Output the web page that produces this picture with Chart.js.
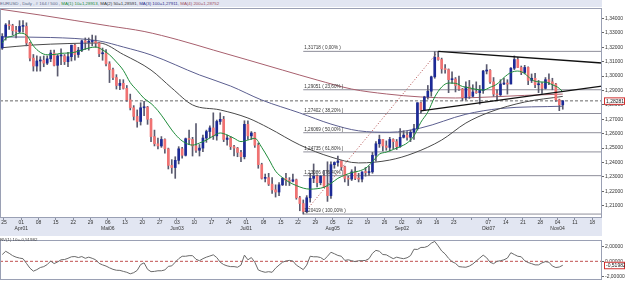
<!DOCTYPE html>
<html><head><meta charset="utf-8">
<script src="https://cdn.jsdelivr.net/npm/chart.js@4.4.0/dist/chart.umd.min.js"></script>
<style>
html,body{margin:0;padding:0;background:#fff;width:625px;height:284px;overflow:hidden;font-family:"Liberation Sans",Arial,sans-serif}
#main{position:absolute;left:0;top:0}
#osc{position:absolute;left:0;top:236px}
#title{position:absolute;left:0;top:0;width:602px;height:7px;background:#e2e6f2;font-size:4.4px;line-height:7px;white-space:nowrap;color:#5a6888}
#oscTitle{position:absolute;left:0;top:237px;font-size:4.4px;line-height:5px;white-space:nowrap;color:#444}
</style></head><body>
<canvas id="main" width="625" height="236"></canvas>
<canvas id="osc" width="625" height="48"></canvas>
<div id="title">EURUSD , Daily , # 164 / 500 , <span style="color:#1e8c3a">MA(1) 10=1,28913</span>, <span style="color:#333">MA(2) 50=1,28591</span>, <span style="color:#2a2f8a">MA(3) 100=1,27911</span>, <span style="color:#a0505e">MA(4) 200=1,28752</span></div>
<div id="oscTitle">RV(1) 10=-0,51982</div>
<script>
// ---- data (trading-day index starts at -1 = Fri 23 Mar 2012) ----
const firstIndex = -1;
const opens  = [1.3195,1.3275,1.3355,1.3350,1.3315,1.3310,1.3345,1.3345,1.3230,1.3125,1.3070,1.3105,1.3110,1.3090,1.3120,1.3160,1.3075,1.3140,1.3140,1.3100,1.3135,1.3215,1.3150,1.3180,1.3245,1.3235,1.3240,1.3240,1.3230,1.3155,1.3160,1.3085,1.3045,1.2990,1.2935,1.2950,1.2915,1.2835,1.2780,1.2720,1.2685,1.2780,1.2785,1.2700,1.2580,1.2530,1.2515,1.2560,1.2495,1.2380,1.2365,1.2415,1.2495,1.2450,1.2565,1.2560,1.2515,1.2485,1.2500,1.2570,1.2615,1.2640,1.2585,1.2685,1.2700,1.2560,1.2570,1.2510,1.2500,1.2470,1.2440,1.2665,1.2585,1.2605,1.2520,1.2385,1.2290,1.2295,1.2250,1.2210,1.2195,1.2245,1.2290,1.2275,1.2270,1.2280,1.2155,1.2115,1.2060,1.2155,1.2290,1.2305,1.2260,1.2305,1.2230,1.2170,1.2385,1.2400,1.2410,1.2370,1.2290,1.2285,1.2335,1.2290,1.2285,1.2335,1.2330,1.2335,1.2450,1.2530,1.2560,1.2515,1.2505,1.2560,1.2545,1.2510,1.2575,1.2590,1.2575,1.2610,1.2635,1.2815,1.2765,1.2855,1.2895,1.2995,1.3130,1.3115,1.3050,1.3045,1.2975,1.2980,1.2935,1.2910,1.2850,1.2925,1.2860,1.2890,1.2885,1.2900,1.3035,1.3040,1.2960,1.2875,1.2870,1.2945,1.2950,1.2945,1.3055,1.3115,1.3060,1.3025,1.3060,1.2970,1.2985,1.2940,1.2945,1.2915,1.2975,1.2960,1.2945,1.2835,1.2800];
const highs  = [1.3295,1.3365,1.3385,1.3360,1.3345,1.3385,1.3385,1.3370,1.3235,1.3150,1.3140,1.3135,1.3140,1.3140,1.3180,1.3180,1.3150,1.3190,1.3150,1.3165,1.3215,1.3220,1.3200,1.3250,1.3265,1.3265,1.3285,1.3280,1.3235,1.3195,1.3185,1.3100,1.3055,1.3010,1.2975,1.2975,1.2935,1.2875,1.2795,1.2765,1.2815,1.2825,1.2790,1.2705,1.2625,1.2570,1.2580,1.2565,1.2500,1.2420,1.2440,1.2510,1.2505,1.2570,1.2625,1.2575,1.2670,1.2525,1.2590,1.2625,1.2655,1.2745,1.2695,1.2745,1.2720,1.2590,1.2580,1.2520,1.2505,1.2485,1.2690,1.2690,1.2615,1.2610,1.2535,1.2395,1.2320,1.2325,1.2295,1.2245,1.2260,1.2295,1.2325,1.2295,1.2320,1.2285,1.2165,1.2140,1.2170,1.2325,1.2390,1.2315,1.2310,1.2345,1.2405,1.2405,1.2405,1.2445,1.2415,1.2375,1.2305,1.2350,1.2370,1.2325,1.2335,1.2365,1.2375,1.2470,1.2545,1.2590,1.2560,1.2550,1.2575,1.2565,1.2560,1.2635,1.2620,1.2615,1.2625,1.2665,1.2815,1.2820,1.2860,1.2935,1.3000,1.3170,1.3172,1.3125,1.3080,1.3050,1.3030,1.2990,1.3000,1.2915,1.2960,1.2970,1.2940,1.2960,1.2935,1.3040,1.3080,1.3045,1.2990,1.2905,1.2975,1.2985,1.2975,1.3060,1.3140,1.3130,1.3070,1.3075,1.3065,1.3015,1.3020,1.2970,1.2955,1.2990,1.3015,1.2985,1.2950,1.2840,1.2830];
const lows   = [1.3185,1.3250,1.3325,1.3285,1.3265,1.3300,1.3305,1.3210,1.3105,1.3035,1.3035,1.3035,1.3065,1.3080,1.3100,1.3070,1.3000,1.3080,1.3080,1.3065,1.3105,1.3110,1.3130,1.3170,1.3185,1.3180,1.3210,1.3200,1.3135,1.3110,1.3070,1.2955,1.2975,1.2910,1.2905,1.2910,1.2825,1.2765,1.2695,1.2645,1.2660,1.2725,1.2665,1.2545,1.2515,1.2495,1.2505,1.2465,1.2355,1.2325,1.2290,1.2390,1.2430,1.2445,1.2525,1.2445,1.2470,1.2445,1.2475,1.2540,1.2570,1.2560,1.2555,1.2665,1.2545,1.2520,1.2490,1.2445,1.2440,1.2405,1.2425,1.2560,1.2560,1.2505,1.2360,1.2285,1.2265,1.2240,1.2185,1.2160,1.2170,1.2240,1.2240,1.2240,1.2265,1.2145,1.2065,1.2042,1.2050,1.2125,1.2260,1.2230,1.2245,1.2225,1.2130,1.2150,1.2360,1.2375,1.2345,1.2265,1.2240,1.2275,1.2280,1.2265,1.2265,1.2305,1.2310,1.2325,1.2410,1.2505,1.2480,1.2485,1.2480,1.2495,1.2490,1.2505,1.2570,1.2555,1.2545,1.2560,1.2625,1.2740,1.2760,1.2840,1.2860,1.2985,1.3110,1.3020,1.3020,1.2885,1.2950,1.2890,1.2900,1.2830,1.2835,1.2845,1.2855,1.2880,1.2805,1.2880,1.3015,1.2950,1.2860,1.2830,1.2865,1.2940,1.2875,1.2945,1.3045,1.3060,1.3010,1.3015,1.2940,1.2955,1.2920,1.2885,1.2880,1.2910,1.2940,1.2905,1.2825,1.2760,1.2770];
const closes = [1.3275,1.3355,1.3350,1.3315,1.3310,1.3345,1.3345,1.3230,1.3125,1.3070,1.3105,1.3110,1.3090,1.3120,1.3160,1.3075,1.3140,1.3140,1.3100,1.3135,1.3215,1.3150,1.3180,1.3245,1.3235,1.3240,1.3240,1.3230,1.3155,1.3160,1.3085,1.3045,1.2990,1.2935,1.2950,1.2915,1.2835,1.2780,1.2720,1.2685,1.2780,1.2785,1.2700,1.2580,1.2530,1.2515,1.2560,1.2495,1.2380,1.2365,1.2415,1.2495,1.2450,1.2565,1.2560,1.2515,1.2485,1.2500,1.2570,1.2615,1.2640,1.2585,1.2685,1.2700,1.2560,1.2570,1.2510,1.2500,1.2470,1.2440,1.2665,1.2585,1.2605,1.2520,1.2385,1.2290,1.2295,1.2250,1.2210,1.2195,1.2245,1.2290,1.2275,1.2270,1.2280,1.2155,1.2115,1.2060,1.2155,1.2290,1.2305,1.2260,1.2305,1.2230,1.2170,1.2385,1.2400,1.2410,1.2370,1.2290,1.2285,1.2335,1.2290,1.2285,1.2335,1.2330,1.2335,1.2450,1.2530,1.2560,1.2515,1.2505,1.2560,1.2545,1.2510,1.2575,1.2590,1.2575,1.2610,1.2635,1.2815,1.2765,1.2855,1.2895,1.2995,1.3130,1.3115,1.3050,1.3045,1.2975,1.2980,1.2935,1.2910,1.2850,1.2925,1.2860,1.2890,1.2885,1.2900,1.3035,1.3040,1.2960,1.2875,1.2870,1.2945,1.2950,1.2945,1.3055,1.3115,1.3060,1.3025,1.3060,1.2970,1.2985,1.2940,1.2945,1.2915,1.2975,1.2960,1.2945,1.2835,1.2800,1.2828];

// moving averages (index, value)
const ma10Idx = [-1,0,2,4,6,8,10,12,14,16,18,20,22,24,26,28,30,32,34,36,38,40,42,44,46,48,50,52,54,56,58,60,62,64,66,68,70,72,74,76,78,80,82,84,86,88,90,92,94,96,98,100,102,104,106,108,110,112,114,116,118,120,122,124,126,128,130,132,134,136,138,140,142,144,146,148,150,152,154,156,158,160,161];
const ma10    = [1.3230,1.3262,1.3278,1.3298,1.3285,1.3210,1.3165,1.3148,1.3150,1.3158,1.3160,1.3166,1.3180,1.3195,1.3202,1.3182,1.3148,1.3098,1.3040,1.2955,1.2900,1.2845,1.2810,1.2760,1.2695,1.2626,1.2570,1.2535,1.2521,1.2535,1.2556,1.2584,1.2605,1.2591,1.2568,1.2545,1.2556,1.2568,1.2505,1.2425,1.2340,1.2295,1.2262,1.2240,1.2222,1.2215,1.2218,1.2228,1.2255,1.2290,1.2312,1.2330,1.2340,1.2360,1.2405,1.2458,1.2472,1.2490,1.2510,1.2535,1.2585,1.2680,1.2750,1.2855,1.2924,1.2952,1.2950,1.2928,1.2918,1.2908,1.2903,1.2922,1.2945,1.2990,1.3025,1.3035,1.3018,1.2975,1.2960,1.2958,1.2940,1.2915,1.2891];
const ma50Idx = [-2,8,18,27,34,42,48,54,62,70,76,85,94,102,111,118,126,133,140,150,161];
const ma50    = [1.3195,1.3216,1.3226,1.3230,1.3150,1.3042,1.2917,1.2800,1.2765,1.2709,1.2640,1.2522,1.2438,1.2397,1.2417,1.2466,1.2556,1.2674,1.2751,1.2820,1.2859];
const ma100Idx = [-2,13,27,34,42,56,65,74,85,94,102,111,120,133,143,161];
const ma100    = [1.3272,1.3268,1.3244,1.3202,1.3147,1.3008,1.2931,1.2834,1.2744,1.2667,1.2620,1.2610,1.2640,1.2735,1.2775,1.2791];
const ma200Idx = [-2,10,20,30,40,50,60,70,80,90,100,110,120,130,140,150,161];
const ma200    = [1.3466,1.3424,1.3386,1.3348,1.3310,1.3251,1.3181,1.3112,1.3042,1.2973,1.2910,1.2876,1.2855,1.2848,1.2855,1.2866,1.2875];

// oscillator (one value per trading day, from index -1)
const osc = [0.9,1.33,1.06,0.75,0.55,0.43,0.35,-0.27,-0.9,-1.3,-1.1,-0.82,-0.7,-0.43,0.04,-0.3,-0.08,0.2,0.24,0.4,0.6,0.63,0.5,0.63,0.4,0.55,0.4,0.2,-0.27,-0.47,-0.63,-0.86,-1.06,-1.18,-1.2,-1.33,-1.45,-1.65,-1.5,-1.2,-0.43,-0.2,-1.06,-1.37,-1.33,-1.25,-1.25,-1.14,-0.67,-0.6,-0.12,0.35,0.67,0.67,0.75,0.75,0.27,0.08,0.35,0.55,0.7,0.86,0.5,-0.12,-0.43,-0.6,-0.7,-0.7,-0.78,-0.5,0.82,0.2,0.5,-0.12,-1.14,-1.33,-1.45,-1.37,-1.45,-0.9,-0.5,-0.12,0.04,0.12,0.04,-0.5,-0.8,-1.1,-0.5,0.67,0.6,0.6,0.5,0.2,0.67,1.2,1.0,0.78,0.67,0.12,0.2,0.08,-0.04,0.08,0.08,0.12,0.35,1.06,1.45,1.33,0.9,0.86,0.6,0.35,0.55,0.43,0.35,0.47,0.75,1.6,1.57,1.84,1.84,2.0,2.4,2.63,2.04,1.37,0.98,0.39,-0.04,-0.27,-0.7,-0.75,-0.78,-0.63,-0.35,0.04,0.43,0.82,0.47,-0.12,-0.31,0,0.08,0.2,0.43,1.14,0.9,0.67,0.6,0.08,-0.16,-0.31,-0.47,-0.47,-0.2,-0.04,-0.12,-0.63,-0.82,-0.75,-0.52];
const oscLast = '-0,51982';

// fibonacci retracement (from low idx 86 to high idx 125)
const fibLevels = [1.31718,1.29051,1.27402,1.26069,1.24735,1.23086,1.20419];
const fibLabels = ['1,31718 ( 0,00% )','1,29051 ( 23,60% )','1,27402 ( 38,20% )','1,26069 ( 50,00% )','1,24735 ( 61,80% )','1,23086 ( 76,40% )','1,20419 ( 100,00% )'];
const fibLowIdx = 86, fibHighIdx = 125;
// trend lines [idx, price]
const upperTrend = [[125,1.3172],[172.3,1.3091]];
const lowerTrend = [[120,1.2758],[172.3,1.2931]];
const lastPrice = 1.2828, lastPriceLabel = '1,28281';

// axis ticks
const priceTicks = [1.21,1.22,1.23,1.24,1.25,1.26,1.27,1.28,1.29,1.30,1.31,1.32,1.33,1.34];
const dayLabels = ['25','01','08','15','22','29','06','13','20','27','03','10','17','24','01','08','15','22','29','05','12','19','26','02','09','16','23','','07','14','21','28','04','11','18'];
const monthLabels = ['','Apr01','','','','','Mai06','','','','Jun03','','','','Jul01','','','','','Aug05','','','','Sep02','','','','','Okt07','','','','Nov04','',''];
const oscTicks = [-2,0,2];

const X_MIN = -1.647, X_MAX = 172.34;
const FONT = {family:'"Liberation Sans", Arial, sans-serif', size:5};
const fmt = v => v.toFixed(5).replace('.', ',');

const idx = i => i + firstIndex;
const wickData = lows.map((l,i)=>({x:idx(i), y:[l, highs[i]]}));
const bodyData = opens.map((o,i)=>{const lo=Math.min(o,closes[i]),hi=Math.max(o,closes[i]);return {x:idx(i), y:[lo, hi===lo?hi+0.0002:hi]};});
const up = i => closes[i] >= opens[i];
const pts = (ix, vals) => ix.map((x,k)=>({x, y:vals[k]}));
const seg = (a,b,c,d) => [{x:a,y:b},{x:c,y:d}];

const lineDs = (data, color, extra) => Object.assign({type:'line', data, borderColor:color, borderWidth:1, pointRadius:0, fill:false, cubicInterpolationMode:'monotone'}, extra||{});

const datasets = [];
fibLevels.forEach((lv,k)=>datasets.push(lineDs(seg(fibLowIdx, lv, X_MAX, lv), '#8e8e9a', {order:20})));
datasets.push(lineDs(seg(X_MIN,lastPrice,X_MAX,lastPrice), '#666', {borderDash:[3,2], order:19}));
datasets.push(lineDs(seg(fibLowIdx,1.20419,fibHighIdx,1.31718), '#b04848', {borderDash:[1,2], order:18}));
datasets.push(lineDs(pts(ma200Idx, ma200), '#a8606e', {order:10}));
datasets.push(lineDs(pts(ma100Idx, ma100), '#5c5f90', {order:9}));
datasets.push(lineDs(pts(ma50Idx, ma50), '#4a4a4a', {order:8}));
datasets.push({type:'bar', data:wickData, grouped:false, barThickness:1, backgroundColor:'#5a5a6e', order:6});
datasets.push({type:'bar', data:bodyData, grouped:false, barThickness:2, minBarLength:1,
  backgroundColor: c => up(c.dataIndex) ? '#1c2a96' : '#f07272', order:5});
datasets.push(lineDs(pts(ma10Idx, ma10), '#1e8c3a', {order:3}));
datasets.push(lineDs(upperTrend.map(p=>({x:p[0],y:p[1]})), '#111', {borderWidth:1.3, cubicInterpolationMode:'default', order:2}));
datasets.push(lineDs(lowerTrend.map(p=>({x:p[0],y:p[1]})), '#111', {borderWidth:1.3, cubicInterpolationMode:'default', order:2}));

const weekPos = dayLabels.map((_,w)=>5*w-0.5);

const boxLabel = (ctx, x, y, text) => {
  ctx.save();
  ctx.font = '5px "Liberation Sans", Arial';
  ctx.fillStyle = '#fff'; ctx.fillRect(x, y-3.5, 21, 7);
  ctx.strokeStyle = '#d03030'; ctx.lineWidth = 1; ctx.strokeRect(x+0.5, y-3, 20, 6.5);
  ctx.fillStyle = '#222'; ctx.textBaseline = 'middle'; ctx.fillText(text, x+2, y+0.3);
  ctx.restore();
};

const mainDeco = {
  id:'mainDeco',
  beforeDraw(c){
    const {ctx, chartArea:a} = c;
    ctx.save();
    ctx.fillStyle = '#e2e6f2'; ctx.fillRect(0, a.bottom, a.right, c.height - a.bottom);
    ctx.restore();
  },
  afterDatasetsDraw(c){
    const {ctx, chartArea:a, scales:{x,y}} = c;
    ctx.save();
    ctx.font = '4.6px "Liberation Sans", Arial';
    ctx.fillStyle = '#333'; ctx.textBaseline = 'alphabetic';
    fibLevels.forEach((lv,k)=>{ ctx.fillText(fibLabels[k], x.getPixelForValue(fibLowIdx)+1, y.getPixelForValue(lv)-2); });
    ctx.strokeStyle = '#9aa0b4'; ctx.lineWidth = 1;
    ctx.strokeRect(a.left+0.5, a.top+0.5, a.right-a.left-1, a.bottom-a.top-1);
    ctx.restore();
  },
  afterDraw(c){
    const {ctx, chartArea:a, scales:{y}} = c;
    boxLabel(ctx, a.right+2, y.getPixelForValue(lastPrice), lastPriceLabel);
  }
};

new Chart(document.getElementById('main'), {
  type:'bar',
  data:{datasets},
  options:{
    responsive:false, animation:false, events:[],
    layout:{padding:{top:8,left:0,right:0,bottom:0}},
    plugins:{legend:{display:false}, tooltip:{enabled:false}},
    scales:{
      x:{type:'linear', min:X_MIN, max:X_MAX, offset:false, position:'bottom',
        grid:{display:true, drawOnChartArea:false, offset:false, tickLength:2, color:'#8a8fa0'}, border:{display:false},
        afterBuildTicks:s=>{s.ticks = weekPos.map(v=>({value:v}));},
        ticks:{autoSkip:false, maxRotation:0, padding:0, font:FONT, color:'#333', lineHeight:1.4,
          callback:(v,i)=> monthLabels[i] ? [dayLabels[i], monthLabels[i]] : [dayLabels[i], '']},
        afterFit:s=>{s.height = 18;}},
      y:{type:'linear', position:'right', min:1.20146, max:1.34729,
        grid:{display:true, drawOnChartArea:false, tickLength:2, color:'#666'}, border:{display:false},
        afterBuildTicks:s=>{s.ticks = priceTicks.map(v=>({value:v}));},
        ticks:{padding:1, font:FONT, color:'#333', callback:v=>fmt(v)},
        afterFit:s=>{s.width = 23;}}
    }
  },
  plugins:[mainDeco]
});

const oscDeco = {
  id:'oscDeco',
  afterDatasetsDraw(c){
    const {ctx, chartArea:a} = c;
    ctx.save(); ctx.strokeStyle = '#9aa0b4'; ctx.lineWidth = 1;
    ctx.strokeRect(a.left+0.5, a.top+0.5, a.right-a.left-1, a.bottom-a.top-1); ctx.restore();
  },
  afterDraw(c){
    const {ctx, chartArea:a, scales:{y}} = c;
    boxLabel(ctx, a.right+2, y.getPixelForValue(osc[osc.length-1]), oscLast);
  }
};

new Chart(document.getElementById('osc'), {
  type:'line',
  data:{datasets:[
    lineDs(seg(X_MIN,0,X_MAX,0), '#c05050', {borderDash:[3,2], order:2}),
    lineDs(osc.map((v,i)=>({x:idx(i), y:v})), '#6a6a6a', {cubicInterpolationMode:'default', order:1})
  ]},
  options:{
    responsive:false, animation:false, events:[],
    layout:{padding:{top:2,left:0,right:0,bottom:1}},
    plugins:{legend:{display:false}, tooltip:{enabled:false}},
    scales:{
      x:{type:'linear', min:X_MIN, max:X_MAX, display:false},
      y:{type:'linear', position:'right', min:-2.47, max:2.82,
        grid:{display:true, drawOnChartArea:false, tickLength:2, color:'#666'}, border:{display:false},
        afterBuildTicks:s=>{s.ticks = oscTicks.map(v=>({value:v}));},
        ticks:{padding:1, font:FONT, color:'#333', callback:v=>fmt(v)},
        afterFit:s=>{s.width = 23;}}
    }
  },
  plugins:[oscDeco]
});
</script>
</body></html>
